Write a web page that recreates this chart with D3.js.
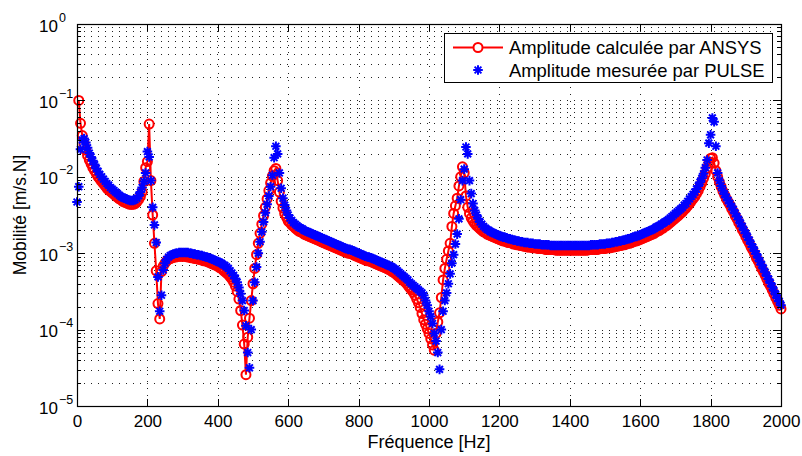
<!DOCTYPE html>
<html>
<head><meta charset="utf-8"></head>
<body style="margin:0;background:#fff">
<style>
body { font-family: "Liberation Sans", Arial, sans-serif; }
.grid line { stroke: #222; stroke-width: 1; stroke-dasharray: 1,6; shape-rendering: crispEdges; }
.tk line { stroke: #000; stroke-width: 1; shape-rendering: crispEdges; }
.tk path { display: none; }
.tk text { font-family: "Liberation Sans", Arial, sans-serif; font-size: 17px; fill: #000; }
</style>
<div id="chart"></div>
<script src="https://d3js.org/d3.v7.min.js"></script>
<script>

// log10 of the mobility [m/s.N], one value every 5 Hz
var ansysFreq = d3.range(5, 2001, 5);
var ansysLog = [
  -1.00,-1.30,-1.46,-1.57,-1.65,-1.72,-1.78,-1.83,-1.88,-1.92,
  -1.96,-2.00,-2.03,-2.06,-2.09,-2.12,-2.15,-2.17,-2.19,-2.21,
  -2.23,-2.25,-2.27,-2.29,-2.30,-2.32,-2.33,-2.34,-2.35,-2.36,
  -2.36,-2.36,-2.35,-2.33,-2.30,-2.26,-2.20,-2.06,-1.88,-1.80,
  -1.31,-2.05,-2.50,-2.87,-3.23,-3.66,-3.86,-3.24,-3.17,-3.13,
  -3.10,-3.08,-3.07,-3.06,-3.05,-3.05,-3.04,-3.04,-3.04,-3.04,
  -3.04,-3.04,-3.05,-3.05,-3.06,-3.06,-3.07,-3.07,-3.08,-3.08,
  -3.09,-3.10,-3.10,-3.11,-3.12,-3.13,-3.14,-3.15,-3.16,-3.17,
  -3.19,-3.20,-3.22,-3.24,-3.26,-3.28,-3.31,-3.34,-3.38,-3.43,
  -3.50,-3.60,-3.75,-3.94,-4.19,-4.59,-4.10,-3.85,-3.62,-3.40,
  -3.20,-3.02,-2.87,-2.74,-2.62,-2.51,-2.40,-2.29,-2.18,-2.08,
  -1.99,-1.92,-1.89,-2.05,-2.20,-2.32,-2.41,-2.48,-2.53,-2.58,
  -2.60,-2.63,-2.65,-2.67,-2.69,-2.71,-2.72,-2.73,-2.75,-2.76,
  -2.77,-2.78,-2.79,-2.80,-2.81,-2.82,-2.83,-2.84,-2.85,-2.86,
  -2.87,-2.88,-2.89,-2.90,-2.91,-2.92,-2.93,-2.94,-2.95,-2.96,
  -2.97,-2.98,-2.99,-3.00,-3.00,-3.01,-3.02,-3.03,-3.04,-3.05,
  -3.06,-3.07,-3.08,-3.09,-3.10,-3.10,-3.11,-3.12,-3.13,-3.14,
  -3.15,-3.16,-3.17,-3.18,-3.19,-3.20,-3.21,-3.22,-3.24,-3.25,
  -3.27,-3.29,-3.31,-3.33,-3.35,-3.37,-3.39,-3.42,-3.45,-3.48,
  -3.51,-3.55,-3.60,-3.65,-3.71,-3.79,-3.87,-3.93,-3.99,-4.05,
  -4.12,-4.20,-4.27,-4.05,-3.90,-3.78,-3.58,-3.35,-3.20,-3.08,
  -2.97,-2.87,-2.65,-2.48,-2.38,-2.28,-2.12,-2.00,-1.87,-1.95,
  -2.25,-2.40,-2.48,-2.54,-2.58,-2.61,-2.64,-2.66,-2.68,-2.70,
  -2.72,-2.73,-2.75,-2.76,-2.77,-2.78,-2.79,-2.80,-2.81,-2.82,
  -2.83,-2.84,-2.84,-2.85,-2.86,-2.86,-2.87,-2.88,-2.88,-2.89,
  -2.89,-2.90,-2.90,-2.91,-2.91,-2.92,-2.92,-2.92,-2.93,-2.93,
  -2.93,-2.94,-2.94,-2.94,-2.94,-2.95,-2.95,-2.95,-2.95,-2.95,
  -2.95,-2.96,-2.96,-2.96,-2.96,-2.96,-2.96,-2.96,-2.96,-2.96,
  -2.96,-2.96,-2.96,-2.96,-2.96,-2.96,-2.96,-2.96,-2.96,-2.96,
  -2.95,-2.95,-2.95,-2.95,-2.95,-2.95,-2.94,-2.94,-2.94,-2.94,
  -2.93,-2.93,-2.93,-2.92,-2.92,-2.91,-2.91,-2.90,-2.90,-2.89,
  -2.89,-2.88,-2.87,-2.87,-2.86,-2.85,-2.84,-2.84,-2.83,-2.82,
  -2.81,-2.80,-2.79,-2.78,-2.77,-2.76,-2.75,-2.74,-2.72,-2.71,
  -2.70,-2.68,-2.67,-2.65,-2.64,-2.62,-2.60,-2.58,-2.56,-2.54,
  -2.52,-2.50,-2.48,-2.46,-2.43,-2.41,-2.38,-2.35,-2.32,-2.29,
  -2.26,-2.22,-2.18,-2.13,-2.08,-2.02,-1.96,-1.89,-1.82,-1.76,
  -1.75,-1.82,-1.92,-2.00,-2.07,-2.13,-2.19,-2.24,-2.29,-2.33,
  -2.37,-2.42,-2.46,-2.51,-2.55,-2.60,-2.64,-2.69,-2.73,-2.78,
  -2.83,-2.87,-2.92,-2.96,-3.01,-3.06,-3.10,-3.15,-3.20,-3.24,
  -3.29,-3.34,-3.39,-3.43,-3.48,-3.53,-3.58,-3.63,-3.68,-3.73
];

var pulseFreq = d3.range(0, 2001, 5);
var pulseLog = [
  -2.33,
  -2.13,-1.64,-1.52,-1.50,-1.55,-1.62,-1.69,-1.74,-1.79,-1.84,
  -1.89,-1.93,-1.97,-2.00,-2.03,-2.06,-2.09,-2.11,-2.14,-2.16,
  -2.18,-2.20,-2.22,-2.24,-2.26,-2.27,-2.28,-2.29,-2.30,-2.31,
  -2.31,-2.31,-2.30,-2.28,-2.25,-2.20,-2.14,-2.06,-1.95,-1.67,
  -1.74,-2.05,-2.40,-2.63,-2.86,-3.31,-3.76,-3.55,-3.22,-3.13,
  -3.08,-3.05,-3.03,-3.02,-3.01,-3.00,-3.00,-2.99,-2.99,-2.99,
  -2.99,-2.99,-2.99,-3.00,-3.00,-3.01,-3.01,-3.02,-3.02,-3.03,
  -3.03,-3.04,-3.05,-3.05,-3.06,-3.07,-3.08,-3.09,-3.10,-3.11,
  -3.12,-3.13,-3.15,-3.16,-3.18,-3.20,-3.23,-3.26,-3.29,-3.33,
  -3.38,-3.45,-3.53,-3.62,-3.75,-3.95,-4.30,-4.50,-4.00,-3.62,
  -3.38,-3.18,-3.00,-2.85,-2.72,-2.59,-2.47,-2.36,-2.25,-2.13,
  -1.98,-1.75,-1.60,-1.70,-1.95,-2.15,-2.28,-2.37,-2.44,-2.50,
  -2.54,-2.57,-2.60,-2.62,-2.64,-2.66,-2.67,-2.68,-2.70,-2.71,
  -2.72,-2.73,-2.74,-2.75,-2.76,-2.77,-2.78,-2.79,-2.80,-2.81,
  -2.82,-2.83,-2.84,-2.85,-2.86,-2.87,-2.88,-2.89,-2.90,-2.91,
  -2.92,-2.93,-2.94,-2.95,-2.95,-2.96,-2.97,-2.98,-2.99,-3.00,
  -3.01,-3.02,-3.03,-3.04,-3.05,-3.05,-3.06,-3.07,-3.08,-3.09,
  -3.10,-3.11,-3.12,-3.13,-3.14,-3.15,-3.16,-3.17,-3.18,-3.20,
  -3.21,-3.23,-3.25,-3.27,-3.29,-3.31,-3.33,-3.35,-3.38,-3.40,
  -3.42,-3.44,-3.46,-3.48,-3.50,-3.52,-3.55,-3.62,-3.68,-3.76,
  -3.83,-3.92,-4.05,-4.15,-4.30,-4.52,-4.00,-3.76,-3.62,-3.52,
  -3.40,-3.27,-3.13,-3.02,-2.88,-2.75,-2.55,-2.30,-2.05,-1.90,
  -1.61,-1.70,-2.05,-2.22,-2.35,-2.44,-2.50,-2.55,-2.59,-2.62,
  -2.65,-2.67,-2.69,-2.70,-2.72,-2.73,-2.74,-2.75,-2.76,-2.77,
  -2.78,-2.79,-2.79,-2.80,-2.81,-2.81,-2.82,-2.83,-2.83,-2.84,
  -2.84,-2.85,-2.85,-2.86,-2.86,-2.86,-2.87,-2.87,-2.87,-2.88,
  -2.88,-2.88,-2.88,-2.89,-2.89,-2.89,-2.89,-2.89,-2.90,-2.90,
  -2.90,-2.90,-2.90,-2.90,-2.90,-2.90,-2.90,-2.90,-2.90,-2.90,
  -2.90,-2.90,-2.90,-2.90,-2.90,-2.90,-2.90,-2.90,-2.90,-2.90,
  -2.90,-2.89,-2.89,-2.89,-2.89,-2.89,-2.88,-2.88,-2.88,-2.88,
  -2.87,-2.87,-2.87,-2.86,-2.86,-2.85,-2.85,-2.84,-2.84,-2.83,
  -2.83,-2.82,-2.81,-2.81,-2.80,-2.79,-2.78,-2.78,-2.77,-2.76,
  -2.75,-2.74,-2.73,-2.72,-2.71,-2.70,-2.69,-2.68,-2.66,-2.65,
  -2.64,-2.62,-2.61,-2.59,-2.58,-2.56,-2.54,-2.52,-2.50,-2.48,
  -2.46,-2.44,-2.42,-2.40,-2.37,-2.35,-2.32,-2.29,-2.26,-2.23,
  -2.20,-2.16,-2.12,-2.07,-2.02,-1.96,-1.88,-1.78,-1.56,-1.45,
  -1.23,-1.28,-1.60,-1.95,-2.05,-2.12,-2.18,-2.23,-2.27,-2.31,
  -2.35,-2.39,-2.43,-2.48,-2.52,-2.56,-2.61,-2.65,-2.70,-2.74,
  -2.79,-2.83,-2.88,-2.92,-2.97,-3.01,-3.06,-3.11,-3.15,-3.20,
  -3.25,-3.30,-3.34,-3.39,-3.44,-3.49,-3.54,-3.59,-3.63,-3.68
];

var xTicks = [0, 200, 400, 600, 800, 1000, 1200, 1400, 1600, 1800, 2000];
var yExponents = [0, -1, -2, -3, -4, -5];
var seriesNames = ["Amplitude calculée par ANSYS", "Amplitude mesurée par PULSE"];

var width = 802, height = 456;
var plotL = 77, plotR = 781, plotT = 24, plotB = 406;

var svg = d3.select("#chart").append("svg")
    .attr("width", width)
    .attr("height", height)
    .style("display", "block");

svg.append("rect").attr("width", width).attr("height", height).attr("fill", "#fff");

var x = d3.scaleLinear().domain([0, 2000]).range([plotL, plotR]);
var y = d3.scaleLog().domain([1e-5, 1]).range([plotB, plotT]);

function toPoints(freqs, logs) {
  var n = Math.min(freqs.length, logs.length);
  return d3.range(n).map(function(i) { return { f: freqs[i], v: Math.pow(10, logs[i]) }; });
}
var ansys = toPoints(ansysFreq, ansysLog);
var pulse = toPoints(pulseFreq, pulseLog);

var decades = yExponents.map(function(e) { return Math.pow(10, e); });
var minors = [];
yExponents.slice(1).forEach(function(e) {
  for (var k = 2; k <= 9; k++) minors.push(k * Math.pow(10, e));
});

// dotted grid
var grid = svg.append("g").attr("class", "grid");
grid.selectAll(".gx").data(xTicks).enter().append("line")
    .attr("x1", function(d) { return Math.round(x(d)) + 0.5; })
    .attr("x2", function(d) { return Math.round(x(d)) + 0.5; })
    .attr("y1", plotT).attr("y2", plotB);
grid.selectAll(".gy").data(decades.concat(minors)).enter().append("line")
    .attr("x1", plotL).attr("x2", plotR)
    .attr("y1", function(d) { return Math.round(y(d)) + 0.5; })
    .attr("y2", function(d) { return Math.round(y(d)) + 0.5; });

// ANSYS : red line + circles
var line = d3.line().x(function(d) { return x(d.f); }).y(function(d) { return y(d.v); });
svg.append("path").datum(ansys)
    .attr("d", line)
    .attr("fill", "none")
    .attr("stroke", "#ff0000")
    .attr("stroke-width", 2);
svg.append("g").selectAll("circle").data(ansys).enter().append("circle")
    .attr("cx", function(d) { return x(d.f); })
    .attr("cy", function(d) { return y(d.v); })
    .attr("r", 4.5)
    .attr("fill", "none")
    .attr("stroke", "#ff0000")
    .attr("stroke-width", 2);

// PULSE : blue asterisks
var star = "M-4.8,0H4.8M0,-4.8V4.8M-3.4,-3.4L3.4,3.4M-3.4,3.4L3.4,-3.4";
svg.append("g").selectAll("path").data(pulse).enter().append("path")
    .attr("d", star)
    .attr("transform", function(d) { return "translate(" + x(d.f) + "," + y(d.v) + ")"; })
    .attr("fill", "none")
    .attr("stroke", "#0000ff")
    .attr("stroke-width", 2);

// axes, ticks pointing inward
svg.append("g").attr("class", "tk")
    .attr("transform", "translate(0," + plotB + ")")
    .call(d3.axisBottom(x).tickValues(xTicks).tickSize(-7).tickPadding(9).tickFormat(d3.format("d")));
svg.append("g").attr("class", "tk")
    .attr("transform", "translate(0," + plotT + ")")
    .call(d3.axisTop(x).tickValues(xTicks).tickSize(-7).tickFormat(""));
svg.append("g").attr("class", "tk")
    .attr("transform", "translate(" + plotL + ",0)")
    .call(d3.axisLeft(y).tickValues(decades).tickSize(-8).tickFormat(""));
svg.append("g").attr("class", "tk")
    .attr("transform", "translate(" + plotL + ",0)")
    .call(d3.axisLeft(y).tickValues(minors).tickSize(-4).tickFormat(""));
svg.append("g").attr("class", "tk")
    .attr("transform", "translate(" + plotR + ",0)")
    .call(d3.axisRight(y).tickValues(decades).tickSize(-8).tickFormat(""));
svg.append("g").attr("class", "tk")
    .attr("transform", "translate(" + plotR + ",0)")
    .call(d3.axisRight(y).tickValues(minors).tickSize(-4).tickFormat(""));

svg.append("rect")
    .attr("x", plotL + 0.5).attr("y", plotT + 0.5)
    .attr("width", plotR - plotL).attr("height", plotB - plotT)
    .attr("fill", "none").attr("stroke", "#000").attr("stroke-width", 1.2);

// y tick labels 10^n
var ylab = svg.append("g").selectAll("text").data(yExponents).enter().append("text")
    .attr("x", 39)
    .attr("y", function(e) { return y(Math.pow(10, e)) + 7.5; })
    .style("font-size", "17px");
ylab.append("tspan").text("10");
ylab.append("tspan")
    .attr("dx", 1).attr("dy", -10)
    .style("font-size", "12.5px")
    .text(function(e) { return e === 0 ? "0" : "\u2212" + (-e); });

// axis titles
svg.append("text")
    .attr("x", (plotL + plotR) / 2).attr("y", 448)
    .attr("text-anchor", "middle")
    .style("font-size", "18px")
    .text("Fréquence [Hz]");
svg.append("text")
    .attr("transform", "translate(26," + (plotT + plotB) / 2 + ") rotate(-90)")
    .attr("text-anchor", "middle")
    .style("font-size", "17.5px")
    .text("Mobilité [m/s.N]");

// legend
var lg = svg.append("g");
lg.append("rect")
    .attr("x", 444.5).attr("y", 33.5).attr("width", 328).attr("height", 49)
    .attr("fill", "#fff").attr("stroke", "#000").attr("stroke-width", 1);
lg.append("line")
    .attr("x1", 453).attr("x2", 503).attr("y1", 47.5).attr("y2", 47.5)
    .attr("stroke", "#ff0000").attr("stroke-width", 2);
lg.append("circle")
    .attr("cx", 478).attr("cy", 47.5).attr("r", 4.5)
    .attr("fill", "#fff").attr("stroke", "#ff0000").attr("stroke-width", 2);
lg.append("path")
    .attr("d", star)
    .attr("transform", "translate(478,70)")
    .attr("fill", "none").attr("stroke", "#0000ff").attr("stroke-width", 2);
lg.selectAll("text").data(seriesNames).enter().append("text")
    .attr("x", 509)
    .attr("y", function(d, i) { return 54 + i * 23; })
    .style("font-size", "18.4px")
    .text(function(d) { return d; });

</script>
</body>
</html>
